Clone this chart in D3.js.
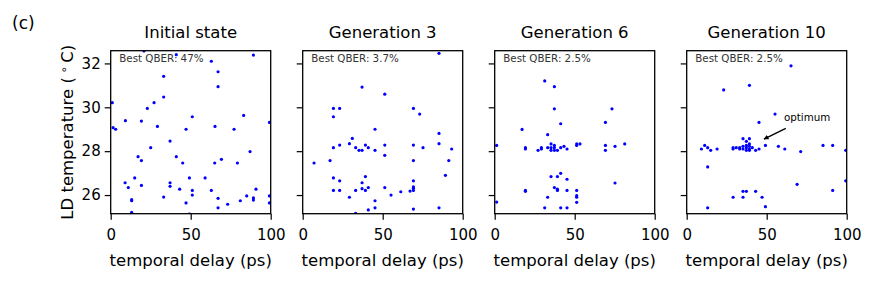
<!DOCTYPE html>
<html lang="en">
<head>
<meta charset="UTF-8">
<title>QBER optimisation generations</title>
<style>
body { margin: 0; background: #fff; }
text { font-family: 'DejaVu Sans', sans-serif; }
</style>
</head>
<body>
<div id="vis"></div>
<script src="https://d3js.org/d3.v7.min.js"></script>
<script>
// [temporal delay (ps), LD temperature (C)]
const initialState = [[20.8,32.57],[41,32.4],[62.9,32.1],[89.2,32.38],[67.1,31.62],[67.1,30.94],[33.1,31.41],[33.1,30.47],[1,30.21],[27.1,30.21],[22.9,29.95],[51,29.57],[83.1,29.63],[9.2,29.39],[19.2,29.37],[99.2,29.31],[1.5,29.07],[3.1,29.0],[29.2,29.13],[47.1,29.0],[65.2,29.13],[77.1,29.0],[37.1,28.46],[25,28.16],[17.1,27.75],[19.2,27.57],[41,27.75],[45,27.46],[69.2,27.63],[65,27.46],[79.2,27.46],[87.1,27.98],[9,26.56],[15,26.78],[11,26.34],[19.2,26.44],[37.1,26.56],[37.1,26.4],[43.1,26.27],[49.2,26.78],[59,26.78],[51,26.21],[51,26.0],[62.9,26.21],[90.8,26.27],[33.1,25.91],[13.1,25.79],[13.1,25.74],[47.1,25.64],[67.1,25.85],[73.1,25.58],[67.1,25.42],[81,25.74],[85,25.96],[89.2,25.87],[89.2,25.77],[99.2,25.96],[99.2,25.64],[13.1,25.21],[49.2,25.13]];
const generation3 = [[85.2,32.46],[37.1,30.92],[51.3,30.6],[19.2,29.95],[23.1,29.95],[19.2,29.57],[69.2,29.95],[73.1,29.69],[45.2,29.0],[85.2,28.81],[31,28.58],[19.2,28.16],[23.1,28.28],[29.2,28.34],[33.1,28.16],[35.2,28.04],[37.1,28.04],[39.2,28.28],[41,28.16],[45.2,28.04],[51.3,28.28],[51.3,27.81],[69.2,28.28],[75.2,28.16],[85.2,28.34],[93.1,28.1],[7.1,27.46],[17.1,27.57],[69.2,27.57],[91.3,27.57],[89.2,26.9],[19.2,26.78],[23.1,26.65],[39.2,26.84],[37.1,26.56],[69.2,26.65],[19.2,26.21],[23.1,26.21],[33.1,26.21],[37.1,26.29],[39.2,26.21],[41,26.34],[51.3,26.34],[55.2,26.0],[61.3,26.15],[67.1,26.18],[69.2,26.37],[69.2,26.31],[69.2,26.21],[29.2,25.9],[45.2,25.74],[45.2,25.42],[41,25.32],[33.1,25.17],[69.2,25.36],[85.2,25.42]];
const generation6 = [[31.25,31.2],[37.3,30.94],[37.3,29.93],[41.25,29.25],[17.1,28.99],[33.1,28.75],[69.2,29.31],[73.3,29.93],[1.25,28.26],[19.2,28.16],[19.2,28.1],[27.1,28.04],[29.2,28.16],[29.2,28.1],[33.1,28.16],[35.2,28.33],[35.2,28.16],[35.2,28.04],[37.3,28.26],[37.3,28.16],[37.3,28.04],[39.2,28.04],[41.25,28.16],[43.3,28.22],[45.2,28.1],[51.25,28.33],[51.25,28.26],[53.3,28.33],[69.2,28.26],[69.2,28.04],[75.2,28.22],[81.25,28.33],[41.25,26.99],[35.2,26.84],[39.2,26.84],[45.2,26.72],[75.2,26.55],[19.2,26.21],[19.2,26.17],[37.3,26.34],[39.2,26.27],[39.2,26.21],[45.2,26.21],[51.25,26.21],[33.1,25.9],[51.25,25.97],[51.25,25.9],[51.25,25.67],[1.25,25.68],[31.25,25.42],[41.25,25.42],[45.2,25.42]];
const generation10 = [[65.2,31.89],[39.2,31.0],[23.1,30.79],[55.2,29.69],[45.2,29.31],[35.2,28.57],[39.2,28.57],[37.3,28.45],[39.2,28.33],[35.2,28.22],[35.2,28.1],[37.3,28.26],[37.3,28.16],[39.2,28.22],[39.2,28.1],[37.3,28.04],[39.2,28.04],[41,28.16],[43.1,28.04],[45.2,28.1],[33.1,28.1],[33.1,28.16],[29,28.1],[29,28.16],[31,28.16],[49.2,28.26],[57.3,28.22],[61.3,28.1],[71.25,27.98],[85.2,28.26],[91.25,28.26],[99.4,28.04],[9.2,28.1],[11.25,28.26],[13.1,28.16],[15,28.04],[19,28.1],[13.1,27.28],[69,26.49],[91.25,26.21],[99.4,26.65],[35.2,26.17],[37.3,26.17],[43.1,26.17],[29,25.9],[35.2,25.9],[47.1,25.9],[49.2,25.47],[13.1,25.42]];

const titles = ["Initial state", "Generation 3", "Generation 6", "Generation 10"];
const bestQber = ["Best QBER: 47%", "Best QBER: 3.7%", "Best QBER: 2.5%", "Best QBER: 2.5%"];
const xTicks = [0, 50, 100];
const yTicks = [26, 28, 30, 32];
const xDomain = [0, 100];
const yDomain = [25.15, 32.58];
// arrow annotation in the last panel: [tail, tip] in data units
const optimumText = [60.8, 29.37];
const optimumArrow = [[61.9, 29.04], [48.3, 28.55]];

const panels = [initialState, generation3, generation6, generation10];

const width = 878;
const height = 285;
const left0 = 110.7;
const step = 192;
const pw = 160;
const plotTop = 50.7;
const ph = 163;

let svg = d3.select("#vis").append("svg")
    .attr("width", width)
    .attr("height", height);

let defs = svg.append("defs");
defs.append("marker")
    .attr("id", "head")
    .attr("viewBox", "0 0 10 10")
    .attr("refX", 9).attr("refY", 5)
    .attr("markerWidth", 5).attr("markerHeight", 5)
    .attr("markerUnits", "userSpaceOnUse")
    .attr("orient", "auto")
  .append("path")
    .attr("d", "M0,0 L10,5 L0,10 z")
    .attr("fill", "#000");

let xScale = d3.scaleLinear().domain(xDomain).range([0, pw]);
let yScale = d3.scaleLinear().domain(yDomain).range([ph, 0]);

svg.append("text")
    .attr("x", 12).attr("y", 29)
    .style("font-size", "17px")
    .text("(c)");

panels.forEach(function(data, i){
  let g = svg.append("g")
      .attr("transform", "translate(" + (left0 + i * step) + "," + plotTop + ")");

  defs.append("clipPath").attr("id", "clip" + i)
    .append("rect").attr("width", pw).attr("height", ph);

  g.append("g")
      .attr("clip-path", "url(#clip" + i + ")")
    .selectAll("circle")
    .data(data)
    .enter().append("circle")
      .attr("cx", function(d){ return xScale(d[0]); })
      .attr("cy", function(d){ return yScale(d[1]); })
      .attr("r", 1.6)
      .style("fill", "#0000ff");

  let xAxis = g.append("g")
      .attr("transform", "translate(0," + ph + ")")
      .call(d3.axisBottom(xScale).tickValues(xTicks).tickSize(6).tickPadding(10));
  xAxis.selectAll("text").style("font-size", "15px").attr("fill", "#000");

  let yAxis = g.append("g")
      .call(d3.axisLeft(yScale).tickValues(yTicks).tickSize(6).tickPadding(4)
        .tickFormat(i === 0 ? d3.format("d") : ""));
  yAxis.selectAll("text").style("font-size", "15px").attr("fill", "#000");

  [xAxis, yAxis].forEach(function(a){
    a.select(".domain").remove();
    a.selectAll("line").attr("stroke", "#000").attr("stroke-width", 1.2);
  });

  g.append("rect")
      .attr("width", pw).attr("height", ph)
      .attr("fill", "none")
      .attr("stroke", "#000")
      .attr("stroke-width", 1.3);

  g.append("text")
      .attr("x", pw / 2).attr("y", -12.4)
      .attr("text-anchor", "middle")
      .style("font-size", "16.5px")
      .text(titles[i]);

  g.append("text")
      .attr("x", 8.6).attr("y", 11)
      .style("font-size", "10.3px")
      .attr("fill", "#333")
      .text(bestQber[i]);

  g.append("text")
      .attr("x", pw / 2).attr("y", 215)
      .attr("text-anchor", "middle")
      .style("font-size", "16.5px")
      .text("temporal delay (ps)");

  if (i === 0) {
    let yl = g.append("text")
        .attr("transform", "translate(" + (-37.7) + "," + (ph / 2) + ") rotate(-90)")
        .attr("text-anchor", "middle")
        .style("font-size", "16.5px");
    yl.append("tspan").text("LD temperature (");
    yl.append("tspan").attr("dy", -5).style("font-size", "11.5px").text(" \u2218 ");
    yl.append("tspan").attr("dy", 5).text("C)");
  }

  if (i === panels.length - 1) {
    g.append("line")
        .attr("x1", xScale(optimumArrow[0][0])).attr("y1", yScale(optimumArrow[0][1]))
        .attr("x2", xScale(optimumArrow[1][0])).attr("y2", yScale(optimumArrow[1][1]))
        .attr("stroke", "#000")
        .attr("stroke-width", 1.4)
        .attr("marker-end", "url(#head)");
    g.append("text")
        .attr("x", xScale(optimumText[0])).attr("y", yScale(optimumText[1]))
        .style("font-size", "10.3px")
        .text("optimum");
  }
});
</script>
</body>
</html>
